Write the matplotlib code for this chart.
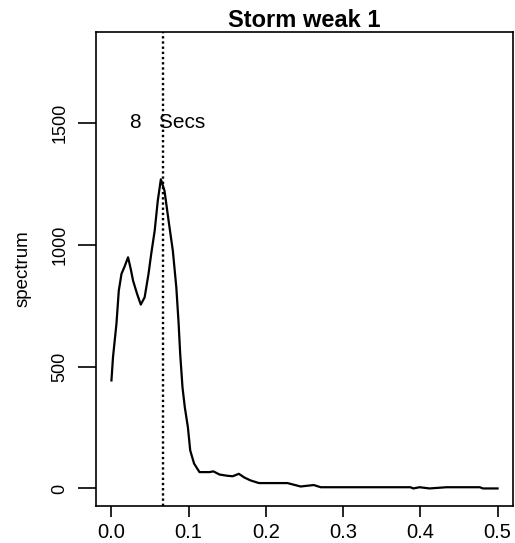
import matplotlib
matplotlib.use("Agg")
import matplotlib.pyplot as plt

# Data
freq = [0.000, 0.002, 0.0065, 0.0095, 0.013, 0.017, 0.0215, 0.025, 0.028, 0.033,
        0.038, 0.043, 0.048, 0.0515, 0.056, 0.060, 0.064, 0.0687, 0.074, 0.0795,
        0.084, 0.087, 0.089, 0.092, 0.095, 0.099, 0.102, 0.107, 0.114, 0.127,
        0.132, 0.140, 0.150, 0.157, 0.165, 0.172, 0.180, 0.191, 0.228, 0.245,
        0.262, 0.271, 0.387, 0.391, 0.399, 0.412, 0.434, 0.477, 0.481, 0.500]
spec = [443, 538, 676, 811, 880, 910, 948, 900, 852, 800,
        754, 784, 880, 962, 1057, 1180, 1268, 1221, 1098, 975,
        825, 676, 553, 415, 333, 251, 156, 102, 67, 67,
        70, 57, 52, 50, 60, 45, 33, 22, 22, 8,
        14, 5, 5, 0, 5, 0, 5, 5, 0, 0]
peak_freq = 0.067
label_text = "8   Secs"
label_y = 1500
title = "Storm weak 1"
ylabel = "spectrum"
xticks = [0.0, 0.1, 0.2, 0.3, 0.4, 0.5]
xticklabels = ["0.0", "0.1", "0.2", "0.3", "0.4", "0.5"]
yticks = [0, 500, 1000, 1500]

plt.rcParams['font.family'] = ['Liberation Sans', 'DejaVu Sans']

fig = plt.figure(figsize=(5.15, 5.43), dpi=100)
ax = fig.add_axes([96/515, 1-506/543, (513-96)/515, (506-32)/543])

ax.plot(freq, spec, color='black', lw=1.6)
ax.axvline(peak_freq, color='black', lw=1.7, linestyle=(0, (1, 1.2)))
ax.text(peak_freq + 0.006, label_y, label_text, ha='center', va='center', fontsize=15)

ax.set_xlim(-0.02, 0.52)
ax.set_ylim(-72, 1872)
ax.set_xticks(xticks)
ax.set_xticklabels(xticklabels)
ax.set_yticks(yticks)
ax.set_yticklabels([str(v) for v in yticks], rotation=90, va='center')

ax.tick_params(axis='x', length=8, width=1.2, pad=4, labelsize=14.5)
ax.tick_params(axis='y', length=13, width=1.2, pad=7, labelsize=13)
for s in ax.spines.values():
    s.set_linewidth(1.2)

ax.set_title(title, fontsize=17, fontweight='bold', pad=1)
ax.set_ylabel(ylabel, fontsize=13.5, labelpad=14)

fig.savefig("out.png", dpi=100)
